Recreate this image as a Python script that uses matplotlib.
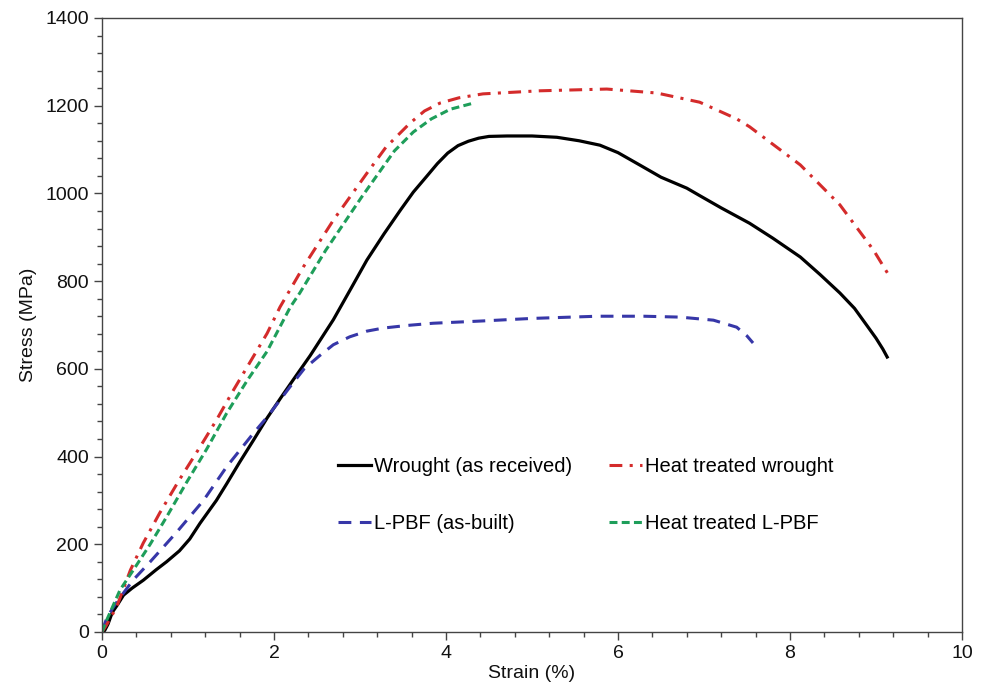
import matplotlib
matplotlib.use("Agg")
import matplotlib.pyplot as plt
from matplotlib.ticker import MultipleLocator

plt.rcParams['font.family'] = ['Liberation Sans', 'DejaVu Sans']

# Wrought (as received)
wr_strain = [0.0, 0.03, 0.07, 0.12, 0.18, 0.25, 0.35, 0.48, 0.63, 0.75, 0.90, 1.02, 1.14, 1.33, 1.45,
             1.60, 1.76, 1.92, 2.10, 2.22, 2.42, 2.69, 2.90, 3.08, 3.28, 3.47, 3.62, 3.78, 3.90, 4.02,
             4.14, 4.26, 4.38, 4.50, 4.71, 5.00, 5.29, 5.55, 5.79, 6.00, 6.26, 6.50, 6.80, 6.95, 7.20,
             7.53, 7.80, 8.12, 8.35, 8.58, 8.75, 8.89, 9.00, 9.08, 9.13]
wr_stress = [0, 3, 18, 45, 62, 84, 100, 118, 142, 160, 185, 212, 248, 300, 338,
             387, 437, 488, 540, 574, 630, 712, 785, 848, 908, 962, 1003, 1040, 1068, 1092,
             1109, 1119, 1126, 1130, 1131, 1131, 1128, 1120, 1110, 1093, 1064, 1037, 1012, 995, 967,
             932, 898, 855, 815, 773, 738, 700, 670, 645, 627]

# Heat treated wrought
htw_strain = [0.0, 0.05, 0.17, 0.33, 0.48, 0.67, 0.89, 1.14, 1.33, 1.53, 1.92, 2.07, 2.34, 2.69,
              3.08, 3.30, 3.58, 3.75, 3.93, 4.15, 4.43, 5.09, 5.87, 6.45, 6.95, 7.38, 7.53, 8.12,
              8.58, 8.97, 9.16]
htw_stress = [0, 15, 57, 141, 203, 271, 344, 422, 483, 552, 681, 741, 832, 939,
              1046, 1105, 1160, 1188, 1206, 1218, 1227, 1234, 1238, 1229, 1208, 1170, 1152, 1065,
              974, 871, 810]

# L-PBF (as-built)
lp_strain = [0.0, 0.03, 0.06, 0.15, 0.25, 0.36, 0.56, 0.87, 1.18, 1.45, 1.76, 1.92, 2.19, 2.35,
             2.53, 2.69, 2.88, 3.08, 3.27, 3.55, 3.85, 4.40, 5.00, 5.76, 6.30, 6.72, 7.11, 7.38,
             7.50, 7.57]
lp_stress = [0, 18, 34, 62, 89, 118, 160, 228, 300, 377, 453, 490, 560, 600,
             630, 655, 673, 686, 693, 699, 704, 709, 715, 720, 720, 718, 711, 695,
             675, 659]

# Heat treated L-PBF
htl_strain = [0.0, 0.05, 0.21, 0.36, 0.56, 0.75, 0.98, 1.22, 1.45, 1.69, 1.92, 2.19, 2.30, 2.60,
              3.02, 3.40, 3.62, 3.83, 4.05, 4.32]
htl_stress = [0, 25, 96, 140, 200, 262, 340, 418, 499, 574, 640, 741, 773, 870,
              992, 1097, 1140, 1170, 1192, 1206]

fig = plt.figure(figsize=(9.87, 6.99), dpi=100)
ax = fig.add_axes([102/987, 1-632/699, 860/987, 614/699])

lw = 2.2
ax.plot(wr_strain, wr_stress, color='black', lw=2.3, label='Wrought (as received)')
ax.plot(lp_strain, lp_stress, color='#3737A8', lw=lw, linestyle=(0, (4.2, 2.8)), label='L-PBF (as-built)')
ax.plot(htw_strain, htw_stress, color='#D42B2B', lw=lw, linestyle=(0, (4.2, 2.4, 1.0, 2.4)),
        label='Heat treated wrought')
ax.plot(htl_strain, htl_stress, color='#1E9E5A', lw=lw, linestyle=(0, (2.6, 1.4)), label='Heat treated L-PBF')

ax.set_xlim(0, 10)
ax.set_ylim(0, 1400)
ax.xaxis.set_major_locator(MultipleLocator(2))
ax.xaxis.set_minor_locator(MultipleLocator(0.4))
ax.yaxis.set_major_locator(MultipleLocator(200))
ax.yaxis.set_minor_locator(MultipleLocator(40))
ax.tick_params(which='both', direction='out', top=False, right=False, color='#444444', width=1.0,
               labelsize=14, labelcolor='#111111')
ax.tick_params(which='major', length=5.5, pad=4)
ax.tick_params(which='minor', length=3.5)
for s in ax.spines.values():
    s.set_color('#444444')
    s.set_linewidth(1.0)

ax.set_xlabel('Strain (%)', fontsize=14, labelpad=2, color='#111111')
ax.set_ylabel('Stress (MPa)', fontsize=14, labelpad=6, color='#111111')

leg = ax.legend(ncol=2, frameon=False, fontsize=14.5, loc='upper left',
                bbox_to_anchor=(0.2535, 0.315), handlelength=1.65, handletextpad=0.12,
                labelspacing=1.9, columnspacing=1.85)

fig.savefig('out.png', dpi=100)
